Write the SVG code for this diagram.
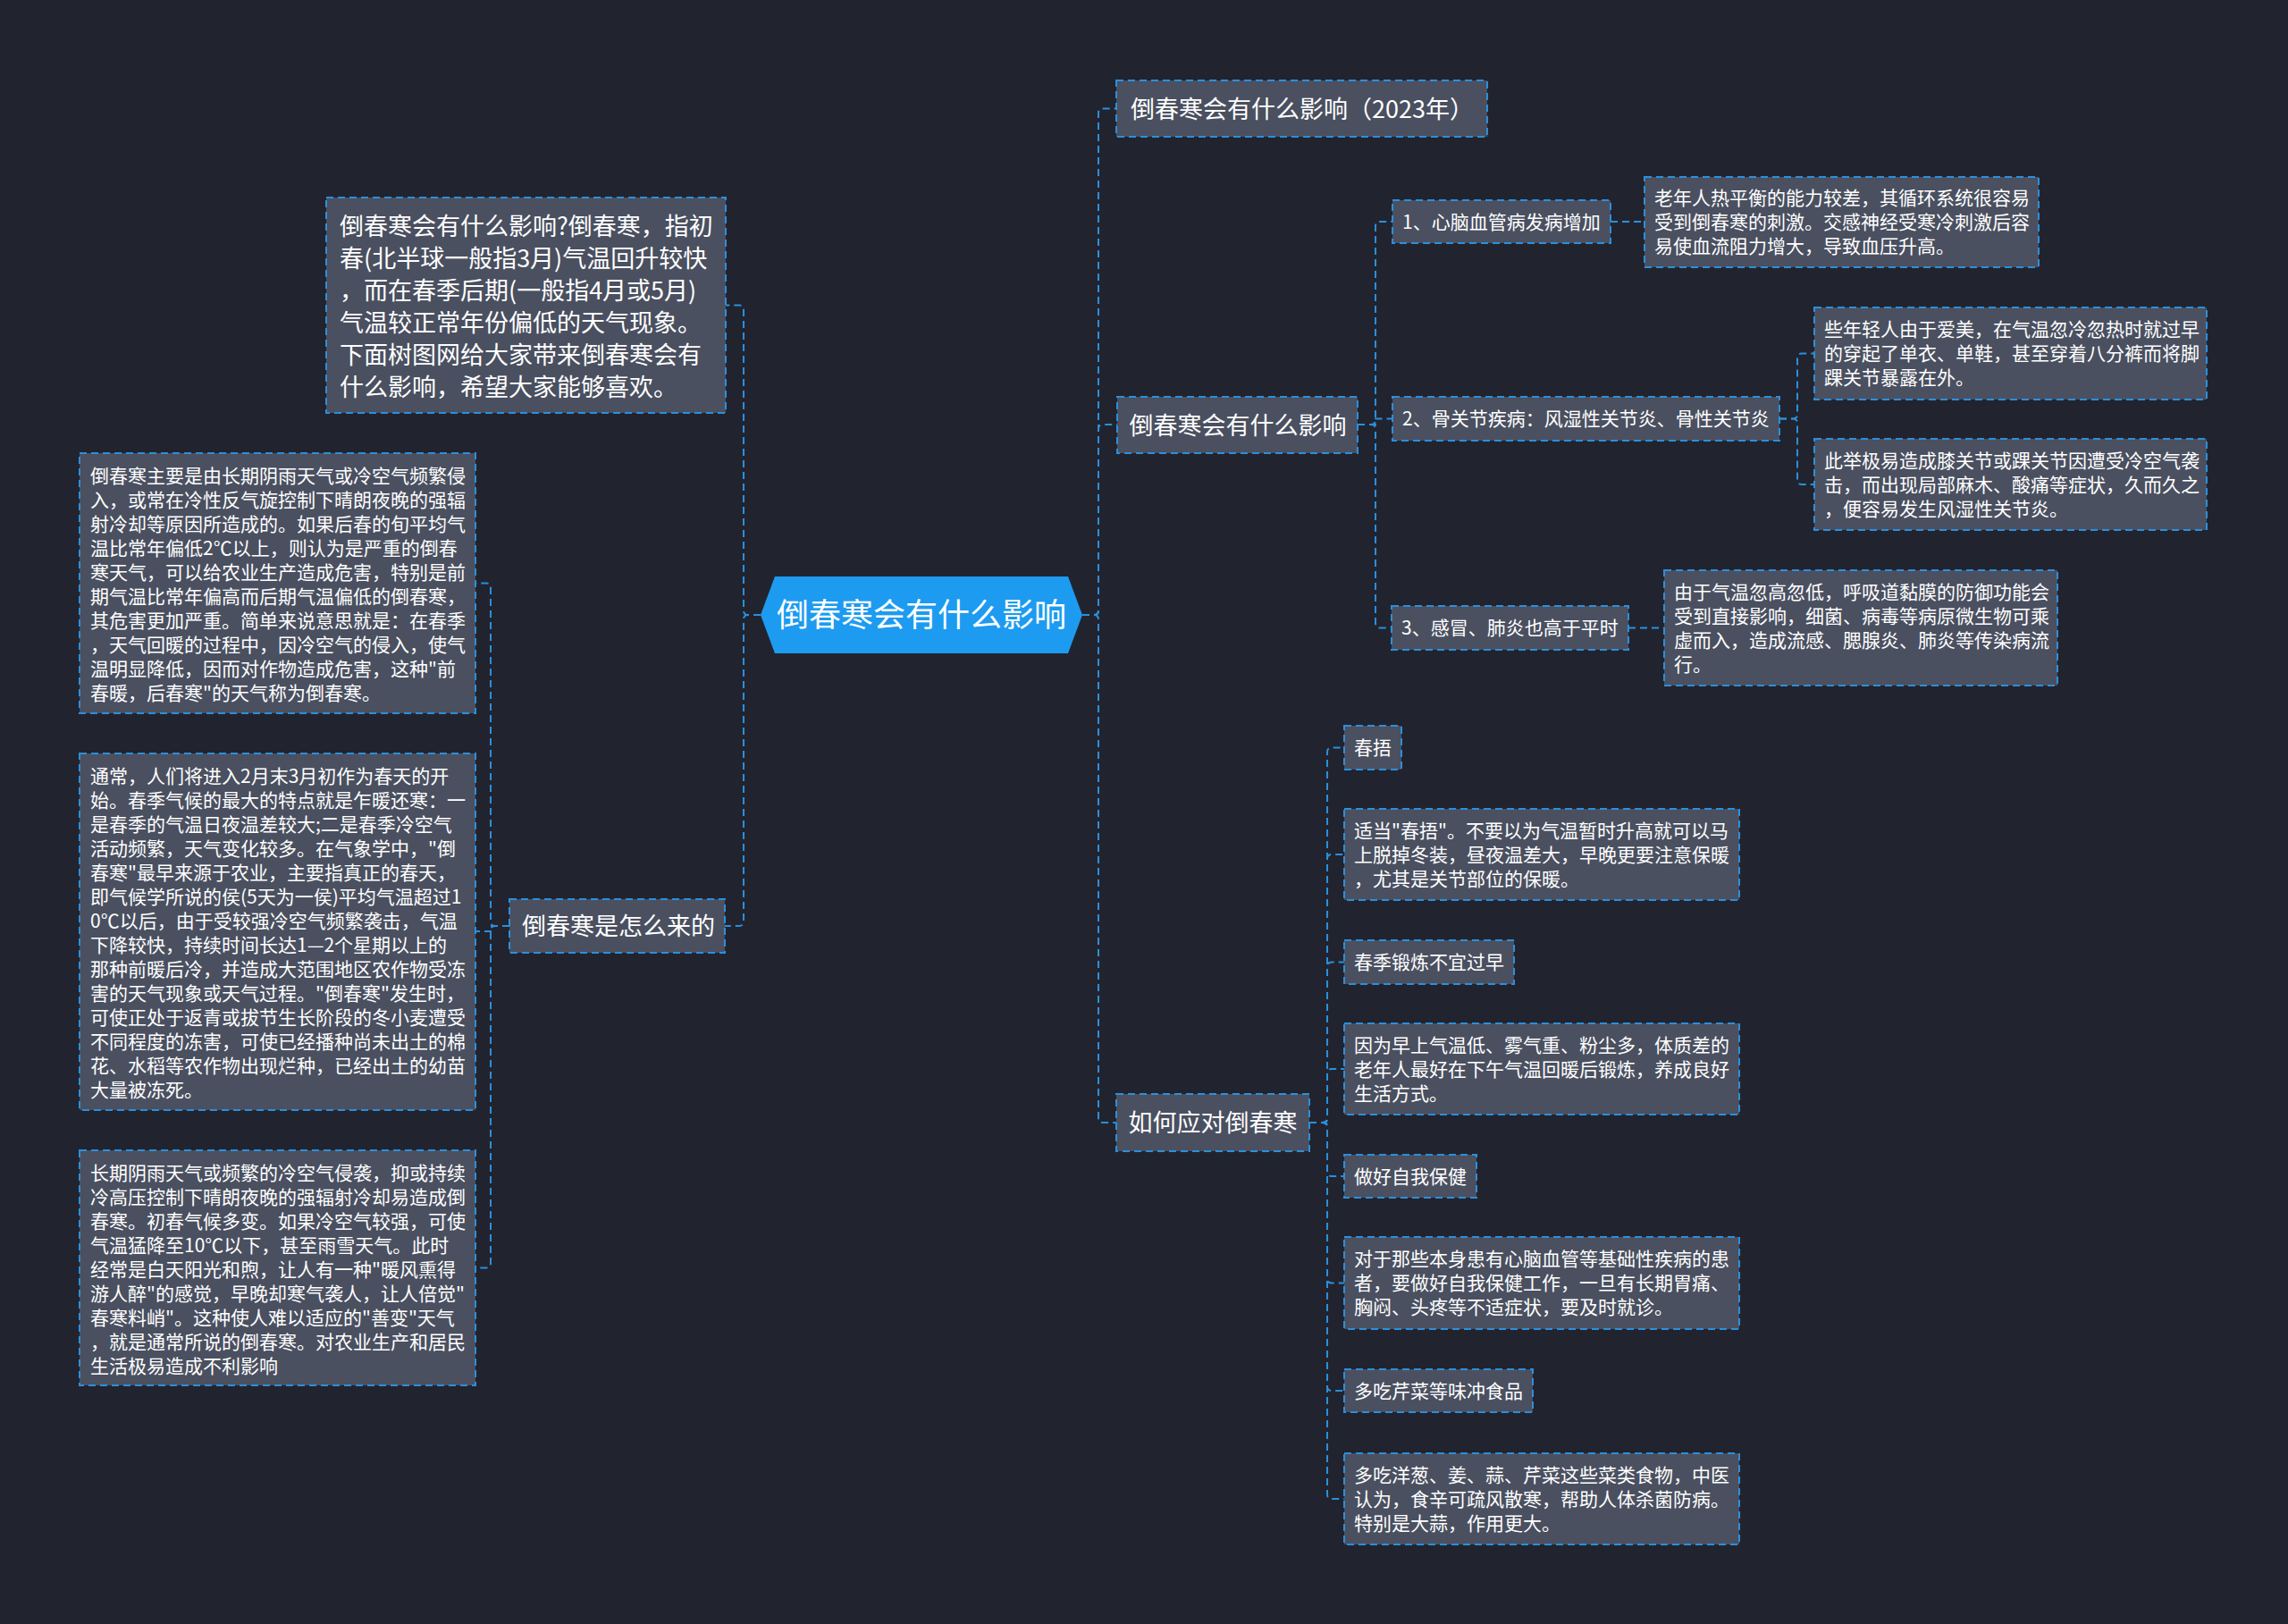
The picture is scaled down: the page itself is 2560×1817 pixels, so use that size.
<svg xmlns="http://www.w3.org/2000/svg" width="2560" height="1817" viewBox="0 0 2560 1817">
<style>
.bg{fill:#21242f}
.box{fill:#4a5060;stroke:#2b8fdd;stroke-width:2;stroke-dasharray:8 5}
.root{fill:#1d9bf0}
.ln{fill:none;stroke:#2b8fdd;stroke-width:2;stroke-dasharray:8 5}
text{font-family:"Noto Sans CJK SC","Noto Sans",sans-serif;fill:#ffffff}
.f36{font-size:36px}
.f27{font-size:27px}
.f21{font-size:21px}
</style>
<rect class="bg" x="0" y="0" width="2560" height="1817"/>

<g id="connectors">
<path class="ln" d="M851 688 H837 Q832 688 832 683 V346.5 Q832 341.5 827 341.5 H812"/>
<path class="ln" d="M851 688 H837 Q832 688 832 693 V1031 Q832 1036 827 1036 H811"/>
<path class="ln" d="M570 1036 H554 Q549 1036 549 1031 V657.5 Q549 652.5 544 652.5 H532"/>
<path class="ln" d="M570 1036 H549 V1042 H532"/>
<path class="ln" d="M570 1036 H554 Q549 1036 549 1041 V1413.5 Q549 1418.5 544 1418.5 H532"/>
<path class="ln" d="M1211 688 H1224 Q1229 688 1229 683 V126.5 Q1229 121.5 1234 121.5 H1249"/>
<path class="ln" d="M1211 688 H1224 Q1229 688 1229 683 V480 Q1229 475 1234 475 H1250"/>
<path class="ln" d="M1211 688 H1224 Q1229 688 1229 693 V1251 Q1229 1256 1234 1256 H1249"/>
<path class="ln" d="M1519 475 H1534 Q1539 475 1539 470 V253 Q1539 248 1544 248 H1558"/>
<path class="ln" d="M1519 475 H1539 V468.5 H1558"/>
<path class="ln" d="M1519 475 H1534 Q1539 475 1539 480 V697.5 Q1539 702.5 1544 702.5 H1557"/>
<path class="ln" d="M1802 248 H1840"/>
<path class="ln" d="M1991 468.5 H2006 Q2011 468.5 2011 463.5 V400.5 Q2011 395.5 2016 395.5 H2030"/>
<path class="ln" d="M1991 468.5 H2006 Q2011 468.5 2011 473.5 V537 Q2011 542 2016 542 H2030"/>
<path class="ln" d="M1822 702.5 H1862"/>
<path class="ln" d="M1465 1256 H1480 Q1485 1256 1485 1251 V841.5 Q1485 836.5 1490 836.5 H1504"/>
<path class="ln" d="M1465 1256 H1480 Q1485 1256 1485 1251 V961 Q1485 956 1490 956 H1504"/>
<path class="ln" d="M1465 1256 H1480 Q1485 1256 1485 1251 V1081.5 Q1485 1076.5 1490 1076.5 H1504"/>
<path class="ln" d="M1465 1256 H1480 Q1485 1256 1485 1251 V1201 Q1485 1196 1490 1196 H1504"/>
<path class="ln" d="M1465 1256 H1480 Q1485 1256 1485 1261 V1311 Q1485 1316 1490 1316 H1504"/>
<path class="ln" d="M1465 1256 H1480 Q1485 1256 1485 1261 V1430.5 Q1485 1435.5 1490 1435.5 H1504"/>
<path class="ln" d="M1465 1256 H1480 Q1485 1256 1485 1261 V1551 Q1485 1556 1490 1556 H1504"/>
<path class="ln" d="M1465 1256 H1480 Q1485 1256 1485 1261 V1672 Q1485 1677 1490 1677 H1504"/>
</g>

<g id="root">
<polygon class="root" points="851,688 867,645 1195,645 1211,688 1195,731 867,731"/>
<text class="f36" x="1031" y="701" text-anchor="middle">倒春寒会有什么影响</text>
</g>

<g id="intro">
<rect class="box" x="365" y="221" width="447" height="241"/>
<text class="f27" x="380" y="263">倒春寒会有什么影响?倒春寒，指初</text>
<text class="f27" x="380" y="299">春(北半球一般指3月)气温回升较快</text>
<text class="f27" x="380" y="335">，而在春季后期(一般指4月或5月)</text>
<text class="f27" x="380" y="371">气温较正常年份偏低的天气现象。</text>
<text class="f27" x="380" y="407">下面树图网给大家带来倒春寒会有</text>
<text class="f27" x="380" y="443">什么影响，希望大家能够喜欢。</text>
</g>

<g id="origin">
<rect class="box" x="570" y="1006" width="241" height="60"/>
<text class="f27" x="584" y="1046">倒春寒是怎么来的</text>
</g>

<g id="originA">
<rect class="box" x="89" y="507" width="443" height="291"/>
<text class="f21" x="101" y="540">倒春寒主要是由长期阴雨天气或冷空气频繁侵</text>
<text class="f21" x="101" y="567">入，或常在冷性反气旋控制下晴朗夜晚的强辐</text>
<text class="f21" x="101" y="594">射冷却等原因所造成的。如果后春的旬平均气</text>
<text class="f21" x="101" y="621">温比常年偏低2℃以上，则认为是严重的倒春</text>
<text class="f21" x="101" y="648">寒天气，可以给农业生产造成危害，特别是前</text>
<text class="f21" x="101" y="675">期气温比常年偏高而后期气温偏低的倒春寒，</text>
<text class="f21" x="101" y="702">其危害更加严重。简单来说意思就是：在春季</text>
<text class="f21" x="101" y="729">，天气回暖的过程中，因冷空气的侵入，使气</text>
<text class="f21" x="101" y="756">温明显降低，因而对作物造成危害，这种"前</text>
<text class="f21" x="101" y="783">春暖，后春寒"的天气称为倒春寒。</text>
</g>

<g id="originB">
<rect class="box" x="89" y="843" width="443" height="399"/>
<text class="f21" x="101" y="876">通常，人们将进入2月末3月初作为春天的开</text>
<text class="f21" x="101" y="903">始。春季气候的最大的特点就是乍暖还寒：一</text>
<text class="f21" x="101" y="930">是春季的气温日夜温差较大;二是春季冷空气</text>
<text class="f21" x="101" y="957">活动频繁，天气变化较多。在气象学中，"倒</text>
<text class="f21" x="101" y="984">春寒"最早来源于农业，主要指真正的春天，</text>
<text class="f21" x="101" y="1011">即气候学所说的侯(5天为一侯)平均气温超过1</text>
<text class="f21" x="101" y="1038">0℃以后，由于受较强冷空气频繁袭击，气温</text>
<text class="f21" x="101" y="1065">下降较快，持续时间长达1—2个星期以上的</text>
<text class="f21" x="101" y="1092">那种前暖后冷，并造成大范围地区农作物受冻</text>
<text class="f21" x="101" y="1119">害的天气现象或天气过程。"倒春寒"发生时，</text>
<text class="f21" x="101" y="1146">可使正处于返青或拔节生长阶段的冬小麦遭受</text>
<text class="f21" x="101" y="1173">不同程度的冻害，可使已经播种尚未出土的棉</text>
<text class="f21" x="101" y="1200">花、水稻等农作物出现烂种，已经出土的幼苗</text>
<text class="f21" x="101" y="1227">大量被冻死。</text>
</g>

<g id="originC">
<rect class="box" x="89" y="1287" width="443" height="263"/>
<text class="f21" x="101" y="1320">长期阴雨天气或频繁的冷空气侵袭，抑或持续</text>
<text class="f21" x="101" y="1347">冷高压控制下晴朗夜晚的强辐射冷却易造成倒</text>
<text class="f21" x="101" y="1374">春寒。初春气候多变。如果冷空气较强，可使</text>
<text class="f21" x="101" y="1401">气温猛降至10℃以下，甚至雨雪天气。此时</text>
<text class="f21" x="101" y="1428">经常是白天阳光和煦，让人有一种"暖风熏得</text>
<text class="f21" x="101" y="1455">游人醉"的感觉，早晚却寒气袭人，让人倍觉"</text>
<text class="f21" x="101" y="1482">春寒料峭"。这种使人难以适应的"善变"天气</text>
<text class="f21" x="101" y="1509">，就是通常所说的倒春寒。对农业生产和居民</text>
<text class="f21" x="101" y="1536">生活极易造成不利影响</text>
</g>

<g id="r1">
<rect class="box" x="1249" y="90" width="415" height="63"/>
<text class="f27" x="1265" y="131.5">倒春寒会有什么影响（2023年）</text>
</g>

<g id="r2">
<rect class="box" x="1250" y="444" width="269" height="63"/>
<text class="f27" x="1263.5" y="485.5">倒春寒会有什么影响</text>
</g>

<g id="item1">
<rect class="box" x="1558" y="224" width="244" height="48"/>
<text class="f21" x="1569" y="255.5">1、心脑血管病发病增加</text>
</g>
<g id="item1-detail">
<rect class="box" x="1840" y="198" width="441" height="101"/>
<text class="f21" x="1851" y="229">老年人热平衡的能力较差，其循环系统很容易</text>
<text class="f21" x="1851" y="256">受到倒春寒的刺激。交感神经受寒冷刺激后容</text>
<text class="f21" x="1851" y="283">易使血流阻力增大，导致血压升高。</text>
</g>

<g id="item2">
<rect class="box" x="1558" y="444" width="433" height="49"/>
<text class="f21" x="1569" y="476">2、骨关节疾病：风湿性关节炎、骨性关节炎</text>
</g>
<g id="item2-a">
<rect class="box" x="2030" y="344" width="439" height="103"/>
<text class="f21" x="2041" y="376">些年轻人由于爱美，在气温忽冷忽热时就过早</text>
<text class="f21" x="2041" y="403">的穿起了单衣、单鞋，甚至穿着八分裤而将脚</text>
<text class="f21" x="2041" y="430">踝关节暴露在外。</text>
</g>
<g id="item2-b">
<rect class="box" x="2030" y="491" width="439" height="102"/>
<text class="f21" x="2041" y="522.5">此举极易造成膝关节或踝关节因遭受冷空气袭</text>
<text class="f21" x="2041" y="549.5">击，而出现局部麻木、酸痛等症状，久而久之</text>
<text class="f21" x="2041" y="576.5">，便容易发生风湿性关节炎。</text>
</g>

<g id="item3">
<rect class="box" x="1557" y="678" width="265" height="49"/>
<text class="f21" x="1568" y="710">3、感冒、肺炎也高于平时</text>
</g>
<g id="item3-detail">
<rect class="box" x="1862" y="638" width="440" height="129"/>
<text class="f21" x="1873" y="669.5">由于气温忽高忽低，呼吸道黏膜的防御功能会</text>
<text class="f21" x="1873" y="696.5">受到直接影响，细菌、病毒等病原微生物可乘</text>
<text class="f21" x="1873" y="723.5">虚而入，造成流感、腮腺炎、肺炎等传染病流</text>
<text class="f21" x="1873" y="750.5">行。</text>
</g>

<g id="r3">
<rect class="box" x="1249" y="1224" width="216" height="64"/>
<text class="f27" x="1262.5" y="1266">如何应对倒春寒</text>
</g>

<g id="c1">
<rect class="box" x="1504" y="812" width="64" height="49"/>
<text class="f21" x="1515" y="844">春捂</text>
</g>
<g id="c2">
<rect class="box" x="1504" y="905" width="442" height="102"/>
<text class="f21" x="1515" y="936.5">适当"春捂"。不要以为气温暂时升高就可以马</text>
<text class="f21" x="1515" y="963.5">上脱掉冬装，昼夜温差大，早晚更要注意保暖</text>
<text class="f21" x="1515" y="990.5">，尤其是关节部位的保暖。</text>
</g>
<g id="c3">
<rect class="box" x="1504" y="1052" width="190" height="49"/>
<text class="f21" x="1515" y="1084">春季锻炼不宜过早</text>
</g>
<g id="c4">
<rect class="box" x="1504" y="1145" width="442" height="102"/>
<text class="f21" x="1515" y="1176.5">因为早上气温低、雾气重、粉尘多，体质差的</text>
<text class="f21" x="1515" y="1203.5">老年人最好在下午气温回暖后锻炼，养成良好</text>
<text class="f21" x="1515" y="1230.5">生活方式。</text>
</g>
<g id="c5">
<rect class="box" x="1504" y="1292" width="148" height="48"/>
<text class="f21" x="1515" y="1323.5">做好自我保健</text>
</g>
<g id="c6">
<rect class="box" x="1504" y="1384" width="442" height="103"/>
<text class="f21" x="1515" y="1416">对于那些本身患有心脑血管等基础性疾病的患</text>
<text class="f21" x="1515" y="1443">者，要做好自我保健工作，一旦有长期胃痛、</text>
<text class="f21" x="1515" y="1470">胸闷、头疼等不适症状，要及时就诊。</text>
</g>
<g id="c7">
<rect class="box" x="1504" y="1532" width="211" height="48"/>
<text class="f21" x="1515" y="1563.5">多吃芹菜等味冲食品</text>
</g>
<g id="c8">
<rect class="box" x="1504" y="1626" width="442" height="102"/>
<text class="f21" x="1515" y="1657.5">多吃洋葱、姜、蒜、芹菜这些菜类食物，中医</text>
<text class="f21" x="1515" y="1684.5">认为，食辛可疏风散寒，帮助人体杀菌防病。</text>
<text class="f21" x="1515" y="1711.5">特别是大蒜，作用更大。</text>
</g>
</svg>
